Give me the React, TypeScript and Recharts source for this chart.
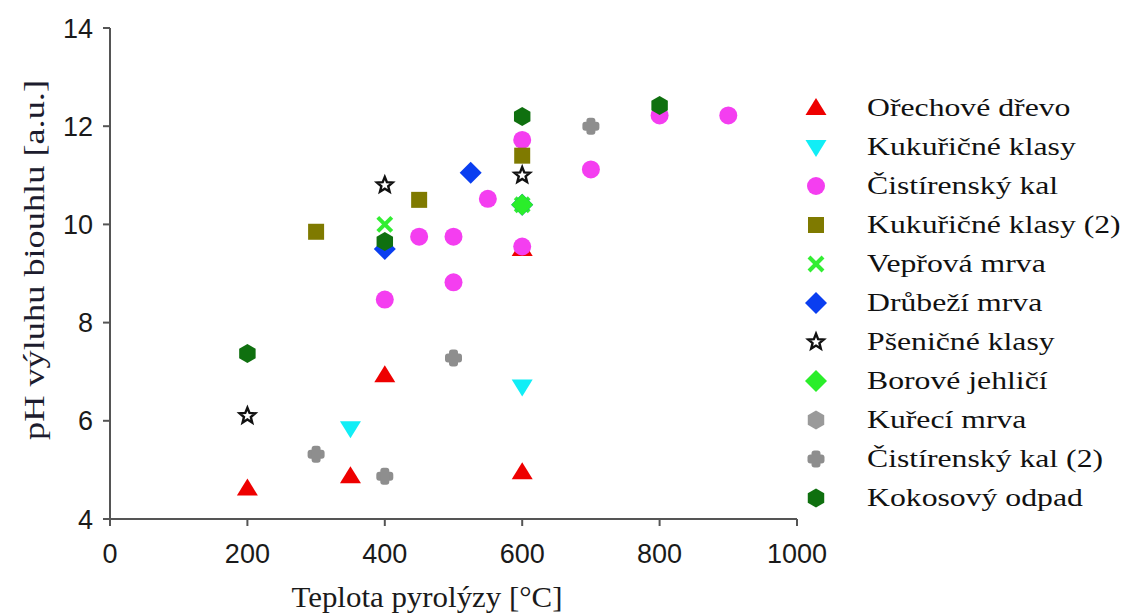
import React from "react";
import { CartesianGrid, Scatter, ScatterChart, XAxis, YAxis } from "recharts";

type Pt = { x: number; y: number };

const orechoveDrevo: Pt[] = [
  { x: 200, y: 4.62 },
  { x: 350, y: 4.87 },
  { x: 400, y: 6.93 },
  { x: 600, y: 4.95 },
  { x: 600, y: 9.5 },
];
const kukuricneKlasy: Pt[] = [
  { x: 350, y: 5.85 },
  { x: 600, y: 6.7 },
];
const cistirenskyKal: Pt[] = [
  { x: 400, y: 8.47 },
  { x: 450, y: 9.75 },
  { x: 500, y: 9.75 },
  { x: 500, y: 8.82 },
  { x: 550, y: 10.52 },
  { x: 600, y: 11.72 },
  { x: 600, y: 9.55 },
  { x: 700, y: 11.12 },
  { x: 800, y: 12.22 },
  { x: 900, y: 12.22 },
];
const kukuricneKlasy2: Pt[] = [
  { x: 300, y: 9.85 },
  { x: 450, y: 10.5 },
  { x: 600, y: 11.4 },
];
const veprovaMrva: Pt[] = [
  { x: 400, y: 10.0 },
  { x: 600, y: 10.4 },
];
const drubeziMrva: Pt[] = [
  { x: 400, y: 9.5 },
  { x: 525, y: 11.05 },
  { x: 600, y: 10.4 },
];
const psenicneKlasy: Pt[] = [
  { x: 200, y: 6.1 },
  { x: 400, y: 10.8 },
  { x: 600, y: 11.0 },
];
const boroveJehlici: Pt[] = [{ x: 600, y: 10.4 }];
const kureciMrva: Pt[] = [];
const cistirenskyKal2: Pt[] = [
  { x: 300, y: 5.32 },
  { x: 400, y: 4.87 },
  { x: 500, y: 7.28 },
  { x: 700, y: 12.0 },
];
const kokosovyOdpad: Pt[] = [
  { x: 200, y: 7.37 },
  { x: 400, y: 9.65 },
  { x: 600, y: 12.2 },
  { x: 800, y: 12.42 },
];

const xTicks = [0, 200, 400, 600, 800, 1000];
const yTicks = [4, 6, 8, 10, 12, 14];

type Kind = "triUp" | "triDown" | "circle" | "square" | "x" | "diamond" | "star" | "hex" | "plus";

const series: { name: string; data: Pt[]; kind: Kind; color: string }[] = [
  { name: "Ořechové dřevo", data: orechoveDrevo, kind: "triUp", color: "#ee0000" },
  { name: "Kukuřičné klasy", data: kukuricneKlasy, kind: "triDown", color: "#11eef6" },
  { name: "Čistírenský kal", data: cistirenskyKal, kind: "circle", color: "#f43ef0" },
  { name: "Kukuřičné klasy (2)", data: kukuricneKlasy2, kind: "square", color: "#7f7a00" },
  { name: "Vepřová mrva", data: veprovaMrva, kind: "x", color: "#33ee33" },
  { name: "Drůbeží mrva", data: drubeziMrva, kind: "diamond", color: "#0a3ef0" },
  { name: "Pšeničné klasy", data: psenicneKlasy, kind: "star", color: "#111111" },
  { name: "Borové jehličí", data: boroveJehlici, kind: "diamond", color: "#2aee2a" },
  { name: "Kuřecí mrva", data: kureciMrva, kind: "hex", color: "#9a9a9a" },
  { name: "Čistírenský kal (2)", data: cistirenskyKal2, kind: "plus", color: "#8e8e8e" },
  { name: "Kokosový odpad", data: kokosovyOdpad, kind: "hex", color: "#0f700f" },
];

function Marker({ kind, color, cx, cy }: { kind: Kind; color: string; cx: number; cy: number }) {
  if (cx == null || cy == null) return null;
  switch (kind) {
    case "triUp":
      return <path d={`M${cx},${cy - 10}L${cx + 10.5},${cy + 7}L${cx - 10.5},${cy + 7}Z`} fill={color} />;
    case "triDown":
      return <path d={`M${cx},${cy + 10}L${cx + 10.5},${cy - 7}L${cx - 10.5},${cy - 7}Z`} fill={color} />;
    case "circle":
      return <circle cx={cx} cy={cy} r={9} fill={color} />;
    case "square":
      return <rect x={cx - 8} y={cy - 8} width={16} height={16} fill={color} />;
    case "x":
      return (
        <g stroke={color} strokeWidth={4}>
          <line x1={cx - 7} y1={cy - 7} x2={cx + 7} y2={cy + 7} />
          <line x1={cx - 7} y1={cy + 7} x2={cx + 7} y2={cy - 7} />
        </g>
      );
    case "diamond":
      return <path d={`M${cx},${cy - 11}L${cx + 11},${cy}L${cx},${cy + 11}L${cx - 11},${cy}Z`} fill={color} />;
    case "star": {
      const pts: string[] = [];
      for (let i = 0; i < 10; i++) {
        const r = i % 2 === 0 ? 8.2 : 3.6;
        const a = -Math.PI / 2 + (i * Math.PI) / 5;
        pts.push(`${cx + r * Math.cos(a)},${cy + r * Math.sin(a)}`);
      }
      return <polygon points={pts.join(" ")} fill="#fff" stroke={color} strokeWidth={2.4} strokeLinejoin="miter" />;
    }
    case "hex": {
      const pts: string[] = [];
      for (let i = 0; i < 6; i++) {
        const a = -Math.PI / 2 + (i * Math.PI) / 3;
        pts.push(`${cx + 9.5 * Math.cos(a)},${cy + 9.5 * Math.sin(a)}`);
      }
      return <polygon points={pts.join(" ")} fill={color} />;
    }
    case "plus":
      return (
        <g fill={color}>
          <rect x={cx - 8.5} y={cy - 4.5} width={17} height={9} rx={3} />
          <rect x={cx - 4.5} y={cy - 8.5} width={9} height={17} rx={3} />
        </g>
      );
  }
  return null;
}

const serif = "'Liberation Serif', 'Times New Roman', serif";
const sans = "'Liberation Sans', Arial, sans-serif";

export default function App() {
  return (
    <div style={{ position: "relative", width: 1123, height: 616, background: "#fff", overflow: "hidden" }}>
      <style>{"body{margin:0}"}</style>
      <ScatterChart width={1123} height={616} margin={{ top: 28, right: 326, bottom: 37, left: 20 }}>
        <CartesianGrid stroke="none" />
        <XAxis
          type="number"
          dataKey="x"
          domain={[0, 1000]}
          ticks={xTicks}
          interval={0}
          height={60}
          stroke="#555"
          strokeWidth={2}
          tickSize={7}
          tickMargin={18}
          tick={{ fontSize: 27, fill: "#1a1a1a", fontFamily: sans }}
          label={{
            content: () => (
              <text
                x={427}
                y={607}
                textAnchor="middle"
                textLength={271}
                lengthAdjust="spacingAndGlyphs"
                fontSize={29}
                fill="#1a1a1a"
                fontFamily={serif}
              >
                Teplota pyrolýzy [°C]
              </text>
            ),
          }}
        />
        <YAxis
          type="number"
          dataKey="y"
          domain={[4, 14]}
          ticks={yTicks}
          interval={0}
          width={90}
          stroke="#555"
          strokeWidth={2}
          tickSize={7}
          tickMargin={10}
          tick={{ fontSize: 27, fill: "#1a1a1a", fontFamily: sans }}
          label={{
            content: () => (
              <text
                transform="translate(44,260) rotate(-90)"
                textAnchor="middle"
                textLength={360}
                lengthAdjust="spacingAndGlyphs"
                fontSize={30}
                fill="#1c1c2e"
                fontFamily={serif}
              >
                pH výluhu biouhlu [a.u.]
              </text>
            ),
          }}
        />
        {series.map((s) => (
          <Scatter
            key={s.name}
            name={s.name}
            data={s.data}
            isAnimationActive={false}
            shape={(p: any) => <Marker kind={s.kind} color={s.color} cx={p.cx} cy={p.cy} />}
          />
        ))}
      </ScatterChart>
      <div style={{ position: "absolute", left: 800, top: 88 }}>
        {series.map((s) => (
          <div key={s.name} style={{ display: "flex", alignItems: "center", height: 39 }}>
            <svg width={32} height={26} style={{ marginRight: 35, flex: "none" }}>
              <Marker kind={s.kind} color={s.color} cx={16} cy={13} />
            </svg>
            <span
              style={{
                fontFamily: serif,
                fontSize: 26,
                color: "#111",
                whiteSpace: "nowrap",
                display: "inline-block",
                transform: "scaleX(1.22)",
                transformOrigin: "left center",
              }}
            >
              {s.name}
            </span>
          </div>
        ))}
      </div>
    </div>
  );
}
